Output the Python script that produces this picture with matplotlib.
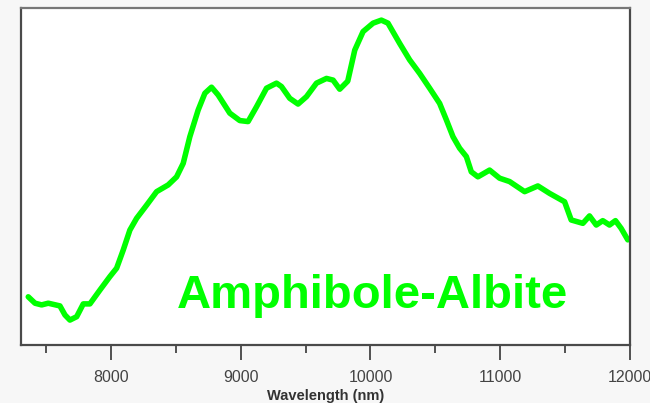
import matplotlib
matplotlib.use("Agg")
import matplotlib.pyplot as plt
from matplotlib.ticker import MultipleLocator, NullLocator

# Emission/reflectance spectrum of the amphibole-albite sample (relative units)
wavelength_nm = [
    7363, 7415, 7466, 7517, 7607, 7646, 7684, 7736, 7787, 7838,
    7915, 7992, 8044, 8095, 8146, 8198, 8275, 8352, 8441, 8506,
    8557, 8608, 8672, 8724, 8775, 8826, 8916, 8993, 9057, 9122,
    9199, 9276, 9314, 9378, 9442, 9507, 9584, 9661, 9712, 9763,
    9825, 9879, 9943, 10020, 10084, 10135, 10225, 10302, 10379, 10456,
    10533, 10585, 10636, 10687, 10739, 10777, 10828, 10918, 10995, 11072,
    11188, 11290, 11380, 11496, 11547, 11637, 11688, 11740, 11790, 11842,
    11888, 11932, 11983,
]
signal = [
    0.143, 0.124, 0.119, 0.124, 0.116, 0.089, 0.074, 0.084, 0.122, 0.122,
    0.163, 0.203, 0.228, 0.282, 0.341, 0.376, 0.415, 0.455, 0.475, 0.499,
    0.539, 0.618, 0.697, 0.747, 0.765, 0.742, 0.688, 0.666, 0.663, 0.707,
    0.762, 0.777, 0.767, 0.732, 0.715, 0.737, 0.777, 0.791, 0.786, 0.759,
    0.783, 0.875, 0.930, 0.955, 0.964, 0.955, 0.895, 0.846, 0.806, 0.762,
    0.717, 0.668, 0.618, 0.584, 0.559, 0.514, 0.499, 0.519, 0.495, 0.485,
    0.455, 0.472, 0.450, 0.425, 0.371, 0.361, 0.383, 0.356, 0.369, 0.356,
    0.369, 0.346, 0.312,
]
x_ticks = [8000, 9000, 10000, 11000, 12000]
x_tick_labels = ["8000", "9000", "10000", "11000", "12000"]
sample_name = "Amphibole-Albite"

plt.rcParams["font.family"] = ["Liberation Sans", "DejaVu Sans"]

fig = plt.figure(figsize=(6.5, 4.03), dpi=100, facecolor="#f7f7f7")
ax = fig.add_axes([21 / 650, 1 - 345 / 403, 609 / 650, 337 / 403])
ax.set_facecolor("white")

ax.plot(wavelength_nm, signal, color="#00ff00", lw=4.0,
        solid_joinstyle="round", solid_capstyle="round")

ax.set_xlim(7307, 12000)
ax.set_ylim(0, 1)

ax.set_xticks(x_ticks)
ax.set_xticklabels(x_tick_labels)
ax.xaxis.set_minor_locator(MultipleLocator(500))
ax.yaxis.set_major_locator(NullLocator())
ax.tick_params(axis="x", which="major", direction="out", length=11, width=1.3,
               color="#444444", labelsize=11.5, labelcolor="#444444", pad=7)
ax.tick_params(axis="x", which="minor", direction="out", length=5.5, width=1.3,
               color="#444444")
ax.tick_params(axis="y", left=False, labelleft=False)

for side, spine in ax.spines.items():
    spine.set_color("#4a4a4a" if side != "top" else "#777777")
    spine.set_linewidth(1.6)

ax.set_xlabel("Wavelength (nm)", fontsize=10.5, fontweight="bold",
              color="#333333", labelpad=3)

ax.text(0.256, 0.110, sample_name, transform=ax.transAxes, ha="left",
        va="baseline", fontsize=34, fontweight="bold", color="#00ff00")

fig.savefig("out.png", dpi=100, facecolor=fig.get_facecolor())
